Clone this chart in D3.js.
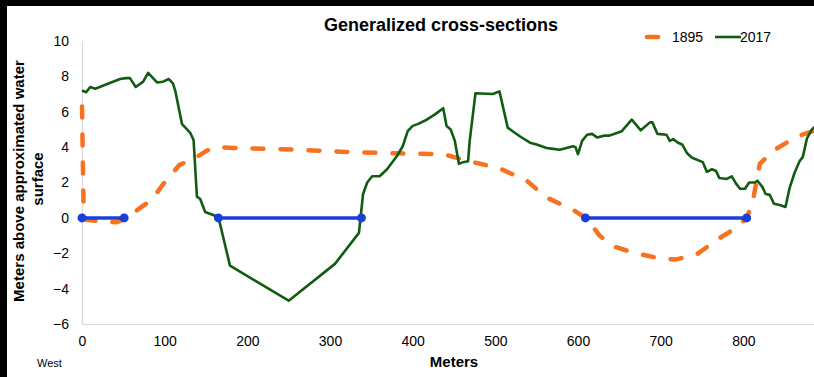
<!DOCTYPE html>
<html>
<head>
<meta charset="utf-8">
<script src="https://cdn.jsdelivr.net/npm/d3@7"></script>
<style>
  html, body { margin: 0; padding: 0; background: #000; }
  #chart { width: 814px; height: 377px; overflow: hidden; }
  text { font-family: Arial, "Liberation Sans", sans-serif; }
</style>
</head>
<body>
<div id="chart"></div>
<script>
// 1895 profile (meters along section, meters above water)
const dist1895 = [0, 2, 5, 22, 42, 54, 70, 85, 98, 118, 134, 151, 163, 183, 264, 333, 385, 437, 469, 505, 538, 562, 594, 611, 626, 642, 666, 699, 719, 744, 771, 792, 804, 811, 816, 820, 836, 865, 890];
const elev1895 = [6.3, 0.3, -0.1, -0.2, -0.25, 0, 0.55, 1.05, 1.9, 3.0, 3.3, 3.8, 4.0, 3.95, 3.85, 3.7, 3.65, 3.6, 3.2, 2.8, 2.1, 1.15, 0.45, -0.05, -1.0, -1.6, -1.95, -2.3, -2.35, -2.05, -1.15, -0.55, 0, 0.8, 2.1, 3.05, 3.8, 4.6, 5.0];

// 2017 profile
const dist2017 = [0, 5, 10, 16, 46, 53, 58, 65, 74, 80, 91, 98, 105, 110, 113, 121, 131, 135, 139, 143, 149, 165, 179, 250, 306, 335, 340, 345, 351, 360, 369, 381, 388, 394, 400, 406, 417, 427, 437, 441, 446, 451, 456, 461, 467, 469, 476, 497, 505, 515, 521, 530, 542, 550, 562, 570, 578, 586, 594, 597, 600, 605, 611, 617, 623, 632, 638, 647, 653, 665, 676, 687, 690, 696, 707, 711, 715, 721, 726, 732, 738, 751, 756, 762, 767, 771, 780, 786, 791, 796, 802, 807, 814, 817, 823, 827, 832, 837, 844, 851, 856, 862, 868, 872, 877, 883, 890];
const elev2017 = [7.2, 7.1, 7.4, 7.3, 7.85, 7.9, 7.9, 7.4, 7.7, 8.2, 7.65, 7.7, 7.85, 7.6, 7.15, 5.3, 4.8, 4.4, 1.2, 1.07, 0.33, 0.05, -2.7, -4.68, -2.6, -0.85, 1.35, 2.0, 2.35, 2.35, 2.75, 3.5, 4.05, 4.9, 5.2, 5.3, 5.55, 5.85, 6.2, 5.2, 5.0, 4.35, 3.05, 3.15, 3.2, 4.35, 7.05, 7.0, 7.15, 5.1, 4.9, 4.6, 4.25, 4.15, 3.95, 3.9, 3.85, 3.95, 4.05, 4.0, 3.6, 4.35, 4.7, 4.75, 4.55, 4.65, 4.65, 4.8, 4.9, 5.55, 4.95, 5.4, 5.4, 4.75, 4.7, 4.35, 4.45, 4.25, 4.15, 3.65, 3.4, 3.15, 2.6, 2.75, 2.65, 2.25, 2.2, 2.35, 1.95, 1.65, 1.65, 2.0, 2.0, 2.1, 1.75, 1.35, 1.3, 0.8, 0.73, 0.62, 1.7, 2.55, 3.2, 3.45, 4.5, 5.0, 5.3];

// water surface segments [start, end]
const waterStart = [0, 165, 609];
const waterEnd = [51, 338, 804];

const xTicks = [0, 100, 200, 300, 400, 500, 600, 700, 800, 900];
const yTicks = [-6, -4, -2, 0, 2, 4, 6, 8, 10];
const seriesNames = ['1895', '2017'];

const width = 814;
const height = 377;
const marginLeft = 82;
const marginTop = 41;
const plotBottom = 324;
const orange = '#f7711f';
const green = '#125c12';
const blue = '#1a3fd8';

const svg = d3.select('#chart')
  .append('svg')
  .attr('width', width)
  .attr('height', height)
  .attr('viewBox', `0 0 ${width} ${height}`);

// black frame on top / left, white page
svg.append('rect').attr('width', width).attr('height', height).attr('fill', '#000');
svg.append('rect').attr('x', 7).attr('y', 6).attr('width', width - 7).attr('height', height - 6).attr('fill', '#fff');

const x = d3.scaleLinear().domain([0, 900]).range([marginLeft, 826]);
const y = d3.scaleLinear().domain([-6, 10]).range([plotBottom, marginTop]);

// axes
svg.append('g')
  .attr('transform', `translate(0,${plotBottom})`)
  .call(d3.axisBottom(x).tickValues(xTicks).tickSize(0).tickPadding(12))
  .call(g => g.select('.domain').attr('stroke', '#d9d9d9').attr('stroke-width', 1.2))
  .call(g => g.selectAll('.tick text').attr('font-size', 14).attr('fill', '#000')
    .attr('font-family', 'Arial, "Liberation Sans", sans-serif'));

svg.append('g')
  .attr('transform', `translate(${marginLeft},0)`)
  .call(d3.axisLeft(y).tickValues(yTicks).tickSize(0).tickPadding(13))
  .call(g => g.select('.domain').attr('stroke', '#d9d9d9').attr('stroke-width', 1.2))
  .call(g => g.selectAll('.tick text').attr('font-size', 14).attr('fill', '#000')
    .attr('font-family', 'Arial, "Liberation Sans", sans-serif'));

// lines
const line1895 = d3.line().x((d, i) => x(dist1895[i])).y(d => y(d));
const line2017 = d3.line().x((d, i) => x(dist2017[i])).y(d => y(d));

svg.append('path')
  .datum(elev1895)
  .attr('fill', 'none')
  .attr('stroke', orange)
  .attr('stroke-width', 4.5)
  .attr('stroke-dasharray', '11 17')
  .attr('stroke-linecap', 'round')
  .attr('stroke-linejoin', 'round')
  .attr('d', line1895);

svg.append('path')
  .datum(elev2017)
  .attr('fill', 'none')
  .attr('stroke', green)
  .attr('stroke-width', 2.6)
  .attr('stroke-linejoin', 'round')
  .attr('d', line2017);

// water surface
const water = svg.append('g');
water.selectAll('line')
  .data(waterStart)
  .enter().append('line')
  .attr('x1', d => x(d))
  .attr('x2', (d, i) => x(waterEnd[i]))
  .attr('y1', y(0))
  .attr('y2', y(0))
  .attr('stroke', blue)
  .attr('stroke-width', 3.5);

water.selectAll('circle')
  .data(waterStart.concat(waterEnd))
  .enter().append('circle')
  .attr('cx', d => x(d))
  .attr('cy', y(0))
  .attr('r', 4.5)
  .attr('fill', blue);

// title
svg.append('text')
  .attr('x', 441)
  .attr('y', 31)
  .attr('text-anchor', 'middle')
  .attr('font-size', 18)
  .attr('font-weight', 'bold')
  .text('Generalized cross-sections');

// legend
const legend = svg.append('g');
legend.append('line')
  .attr('x1', 647).attr('x2', 658).attr('y1', 37).attr('y2', 37)
  .attr('stroke', orange).attr('stroke-width', 4.5).attr('stroke-linecap', 'round');
legend.append('text').attr('x', 672).attr('y', 42).attr('font-size', 14).text(seriesNames[0]);
legend.append('line')
  .attr('x1', 715).attr('x2', 741).attr('y1', 37).attr('y2', 37)
  .attr('stroke', green).attr('stroke-width', 2.6);
legend.append('text').attr('x', 740).attr('y', 42).attr('font-size', 14).text(seriesNames[1]);

// axis titles
svg.append('text')
  .attr('x', 454)
  .attr('y', 367)
  .attr('text-anchor', 'middle')
  .attr('font-size', 15)
  .attr('font-weight', 'bold')
  .text('Meters');

svg.append('text')
  .attr('transform', 'translate(24,181) rotate(-90)')
  .attr('text-anchor', 'middle')
  .attr('font-size', 15)
  .attr('font-weight', 'bold')
  .text('Meters above approximated water');

svg.append('text')
  .attr('transform', 'translate(43,179) rotate(-90)')
  .attr('text-anchor', 'middle')
  .attr('font-size', 15)
  .attr('font-weight', 'bold')
  .text('surface');

svg.append('text')
  .attr('x', 37)
  .attr('y', 367)
  .attr('font-size', 11)
  .text('West');
</script>
</body>
</html>
